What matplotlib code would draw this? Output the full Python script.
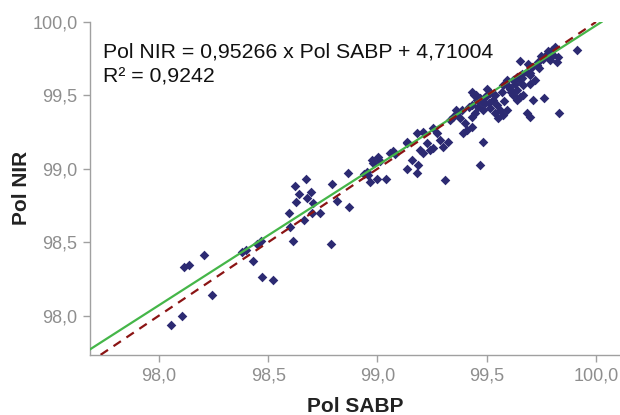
import matplotlib
matplotlib.use("Agg")
import matplotlib.pyplot as plt
from matplotlib.ticker import FuncFormatter, MultipleLocator

# fit from the chart annotation
slope = 0.95266
intercept = 4.71004
r2 = 0.9242

# Pol SABP (x) and Pol NIR (y)
pol_sabp = [
    98.056, 98.107, 98.116, 98.136, 98.207, 98.245, 98.379, 98.400, 98.431, 98.450,
    98.466, 98.470, 98.521, 98.594, 98.614, 98.625, 98.663, 98.705, 98.737, 98.786,
    98.871, 98.622, 98.673, 98.642, 98.694, 98.676, 98.793, 98.866, 98.813, 98.699,
    98.600, 98.951, 98.940, 98.958, 98.981, 98.973, 99.004, 99.011, 98.966, 98.996,
    99.039, 99.057, 99.072, 99.080, 99.136, 99.134,
    99.431, 99.451, 99.457, 99.477, 99.500, 99.492, 99.385, 99.362, 99.347, 99.332,
    99.378, 99.431, 99.446, 99.408, 99.431, 99.393, 99.210, 99.179, 99.255, 99.271,
    99.286, 99.324, 99.301, 99.134, 99.225, 99.195, 99.210, 99.240, 99.255, 99.157,
    99.187, 99.179, 99.484, 99.469, 99.309,
    99.812, 99.797, 99.774, 99.805, 99.827, 99.789, 99.759, 99.736, 99.820, 99.652,
    99.690, 99.706, 99.728, 99.660, 99.683, 99.637, 99.622, 99.652, 99.667, 99.698,
    99.721, 99.591, 99.576, 99.606, 99.568, 99.637, 99.622, 99.652, 99.500, 99.515,
    99.492, 99.530, 99.545, 99.515, 99.484, 99.461, 99.431, 99.561, 99.576, 99.553,
    99.591, 99.637, 99.667, 99.713, 99.683, 99.698, 99.911, 99.830, 99.760,
    99.470, 99.510, 99.540, 99.600, 99.630, 99.660, 99.700, 99.740, 99.750, 99.780,
    99.580, 99.610, 99.440, 99.420, 99.360, 99.400, 99.540, 99.700,
]
pol_nir = [
    97.939, 98.000, 98.331, 98.347, 98.410, 98.138, 98.433, 98.448, 98.370, 98.487,
    98.511, 98.263, 98.246, 98.701, 98.508, 98.776, 98.654, 98.764, 98.698, 98.487,
    98.740, 98.885, 98.930, 98.828, 98.839, 98.803, 98.894, 98.969, 98.782, 98.701,
    98.601, 98.976, 98.964, 98.957, 99.037, 99.059, 99.082, 99.054, 98.912, 98.928,
    98.928, 99.105, 99.122, 99.100, 98.996, 99.173,
    99.524, 99.501, 99.472, 99.456, 99.501, 99.445, 99.399, 99.377, 99.354, 99.331,
    99.343, 99.354, 99.377, 99.263, 99.286, 99.241, 99.252, 99.241, 99.275, 99.241,
    99.195, 99.184, 99.150, 99.184, 99.173, 99.127, 99.105, 99.127, 99.139, 99.059,
    99.025, 98.969, 99.184, 99.025, 98.923,
    99.830, 99.807, 99.785, 99.773, 99.762, 99.744, 99.751, 99.728, 99.728, 99.735,
    99.717, 99.694, 99.705, 99.649, 99.660, 99.626, 99.603, 99.603, 99.569, 99.581,
    99.603, 99.603, 99.569, 99.547, 99.524, 99.535, 99.501, 99.490, 99.547, 99.513,
    99.490, 99.467, 99.433, 99.411, 99.399, 99.422, 99.433, 99.399, 99.365, 99.343,
    99.399, 99.467, 99.501, 99.467, 99.377, 99.350, 99.807, 99.380, 99.480,
    99.480, 99.450, 99.500, 99.560, 99.580, 99.620, 99.650, 99.690, 99.770, 99.800,
    99.460, 99.520, 99.500, 99.420, 99.400, 99.310, 99.380, 99.640,
]

fig = plt.figure(figsize=(6.2, 4.15), dpi=100)
ax = fig.add_axes([0.145, 0.145, 0.855, 0.802])

ax.scatter(pol_sabp, pol_nir, marker='D', s=24, color='#2c2a72', linewidths=0, zorder=2)
ax.axline((0, intercept), slope=slope, color='#45b649', lw=1.6, zorder=3)
ax.axline((98, 98), slope=1, color='#8b1414', lw=1.6, ls=(0, (4, 3)), zorder=4)

ax.set_xlim(97.684, 100.11)
ax.set_ylim(97.733, 100.0)
ax.xaxis.set_major_locator(MultipleLocator(0.5))
ax.yaxis.set_major_locator(MultipleLocator(0.5))
fmt = FuncFormatter(lambda v, p: f"{v:.1f}".replace('.', ','))
ax.xaxis.set_major_formatter(fmt)
ax.yaxis.set_major_formatter(fmt)

for s in ['top', 'right']:
    ax.spines[s].set_visible(False)
for s in ['left', 'bottom']:
    ax.spines[s].set_color('#a0a0a0')
    ax.spines[s].set_linewidth(1.0)
ax.tick_params(axis='both', colors='#a0a0a0', labelcolor='#8e8e8e', length=5,
               width=1.0, labelsize=13, pad=4)
for lab in ax.get_xticklabels() + ax.get_yticklabels():
    lab.set_family('Liberation Sans')

ax.set_xlabel("Pol SABP", fontsize=15, fontweight='bold', family='Liberation Sans',
              color='#222222', labelpad=9)
ax.set_ylabel("Pol NIR", fontsize=15, fontweight='bold', family='Liberation Sans',
              color='#222222', labelpad=1)

eq = f"Pol NIR = {slope:.5f} x Pol SABP + {intercept:.5f}".replace('.', ',')
r2_txt = f"R\u00b2 = {r2:.4f}".replace('.', ',')
ax.text(0.025, 0.872, eq + "\n" + r2_txt,
        transform=ax.transAxes, fontsize=15.3, family='Liberation Sans',
        color='#111111', va='center', ha='left', linespacing=1.35)

fig.savefig("out.png", dpi=100)
